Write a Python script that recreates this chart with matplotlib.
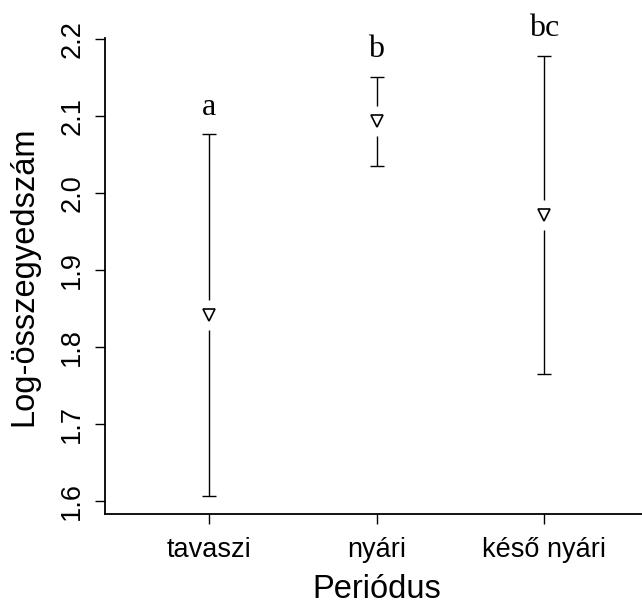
import numpy as np
import matplotlib
matplotlib.use("Agg")
import matplotlib.pyplot as plt

# =========================================================
# DATA
# =========================================================

periods = ["tavaszi", "nyári", "késő nyári"]
means = [1.841, 2.093, 1.971]
ci_half = [0.235, 0.058, 0.207]
letters = ["a", "b", "bc"]

x = np.arange(1, len(periods) + 1)
lower = np.array(means) - np.array(ci_half)
upper = np.array(means) + np.array(ci_half)

# =========================================================
# FIGURE
# =========================================================

plt.rcParams["font.family"] = ["Liberation Sans", "DejaVu Sans"]

fig = plt.figure(figsize=(6.42, 6.03), dpi=100)
ax = fig.add_axes([0.1631, 0.1484, 0.8467, 0.7882])

# R-style axis range: data range padded by 4 %
pad_y = 0.04 * (upper.max() - lower.min())
ax.set_ylim(lower.min() - pad_y, upper.max() + pad_y)
ax.set_xlim(0.38, 3.62)

# gap around the mean marker, in data units
px_per_unit = ax.transData.transform((0, 1))[1] - ax.transData.transform((0, 0))[1]
gap = 15 / px_per_unit

# error bars split around the marker
ax.vlines(x, means + np.full(3, gap), upper, color="black", lw=1.0)
ax.vlines(x, lower, means - np.full(3, gap), color="black", lw=1.0)
ax.plot(x, upper, ls="none", marker="_", ms=10, mew=1.0, color="black")
ax.plot(x, lower, ls="none", marker="_", ms=10, mew=1.0, color="black")

# mean points
ax.plot(x, means, ls="none", marker="v", ms=8, mfc="white",
        mec="black", mew=1.2)

# group letters above the bars
for xi, hi, lab in zip(x, upper, letters):
    ax.annotate(lab, (xi, hi), xytext=(0, 14), textcoords="offset points",
                ha="center", va="baseline", fontsize=23,
                family=["Liberation Serif", "DejaVu Serif"])

# =========================================================
# AXES
# =========================================================

ax.spines["top"].set_visible(False)
ax.spines["right"].set_visible(False)
for s in ["left", "bottom"]:
    ax.spines[s].set_linewidth(1.3)

ax.set_xticks(x)
ax.set_xticklabels(periods, fontsize=19.5)
ax.set_yticks([1.6, 1.7, 1.8, 1.9, 2.0, 2.1, 2.2])
ax.set_yticklabels(["1.6", "1.7", "1.8", "1.9", "2.0", "2.1", "2.2"],
                   fontsize=19.5, rotation=90, va="center")
ax.tick_params(axis="both", direction="out", length=7, width=1.0)
ax.tick_params(axis="x", pad=10)
ax.tick_params(axis="y", pad=7)

ax.set_xlabel("Periódus", fontsize=23.5, labelpad=7.5)
ax.set_ylabel("Log-összegyedszám", fontsize=23.5, labelpad=14)

fig.savefig("out.png", dpi=100)
